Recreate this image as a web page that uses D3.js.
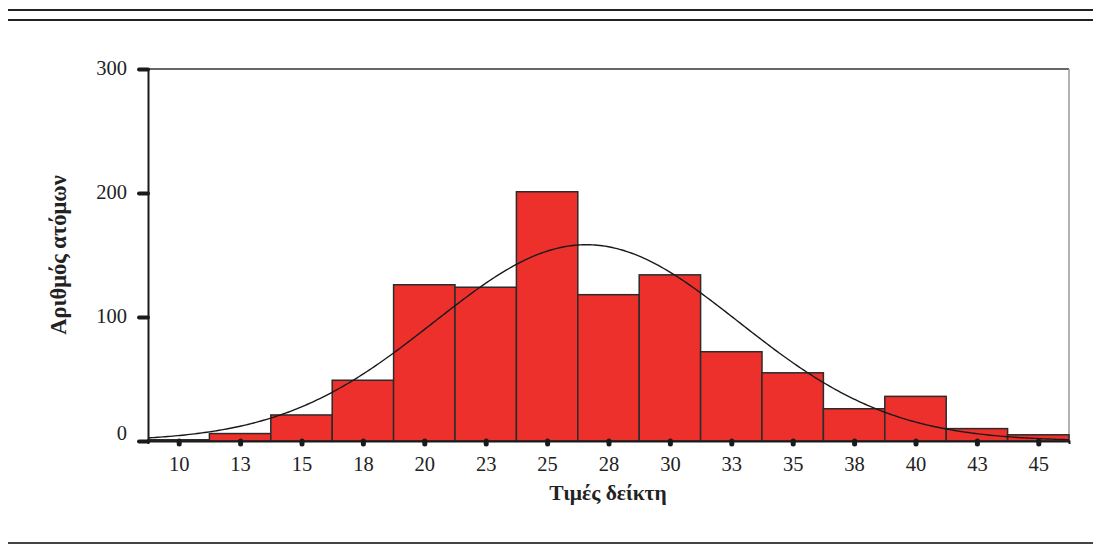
<!DOCTYPE html>
<html>
<head>
<meta charset="utf-8">
<script src="https://cdn.jsdelivr.net/npm/d3@7"></script>
<style>
  body { margin: 0; background: #fff; }
  svg { display: block; }
  text { font-family: "Liberation Serif", "DejaVu Serif", serif; fill: #222; }
</style>
</head>
<body>
<svg id="chart" width="1093" height="548"></svg>
<script>
// ---- data ----
const binCenters = [10, 12.5, 15, 17.5, 20, 22.5, 25, 27.5, 30, 32.5, 35, 37.5, 40, 42.5, 45];
const counts     = [1, 6, 21, 49, 126, 124, 201, 118, 134, 72, 55, 26, 36, 10, 5];
const binWidth = 2.5;
const xTickValues = [10, 12.5, 15, 17.5, 20, 22.5, 25, 27.5, 30, 32.5, 35, 37.5, 40, 42.5, 45];
const xTickLabels = ["10", "13", "15", "18", "20", "23", "25", "28", "30", "33", "35", "38", "40", "43", "45"];
const yTickValues = [0, 100, 200, 300];
const yTickLabels = ["0", "100", "200", "300"];
const curveMean = 26.6;
const curveSD = 6.2;
const curveN = 984;
const xTitle = "Τιμές δείκτη";
const yTitle = "Αριθμός ατόμων";

// ---- layout ----
const svg = d3.select("#chart");
const L = 148, R = 1069, T = 69, B = 441;

const x = d3.scaleLinear().domain([8.75, 46.25]).range([L, R]);
const y = d3.scaleLinear().domain([0, 300]).range([B, T]);

// page rules
[[10, "#222"], [20, "#222"], [543, "#444"]].forEach(([yy, c]) => {
  svg.append("line").attr("x1", 8).attr("x2", 1093).attr("y1", yy).attr("y2", yy)
    .attr("stroke", c).attr("stroke-width", 2);
});

// frame top & right
svg.append("line").attr("x1", L).attr("x2", R).attr("y1", T).attr("y2", T)
  .attr("stroke", "#333").attr("stroke-width", 1.5);
svg.append("line").attr("x1", R).attr("x2", R).attr("y1", T).attr("y2", B)
  .attr("stroke", "#999").attr("stroke-width", 1.5);

// bars
svg.append("g").selectAll("rect").data(binCenters).join("rect")
  .attr("x", (d) => x(d - binWidth / 2))
  .attr("width", (d) => x(d + binWidth / 2) - x(d - binWidth / 2))
  .attr("y", (d, i) => y(counts[i]))
  .attr("height", (d, i) => y(0) - y(counts[i]))
  .attr("fill", "#ee302d")
  .attr("stroke", "#2b2b2b")
  .attr("stroke-width", 1.5);

// normal curve
const pdf = (v) => Math.exp(-0.5 * Math.pow((v - curveMean) / curveSD, 2)) / (curveSD * Math.sqrt(2 * Math.PI));
const curvePts = d3.range(8.75, 46.26, 0.1).map((v) => [v, curveN * binWidth * pdf(v)]);
svg.append("path")
  .datum(curvePts)
  .attr("fill", "none")
  .attr("stroke", "#1a1a1a")
  .attr("stroke-width", 1.4)
  .attr("d", d3.line().x((d) => x(d[0])).y((d) => y(d[1])));

// y axis
const yAxis = d3.axisLeft(y).tickValues(yTickValues)
  .tickFormat((d, i) => yTickLabels[i]).tickSize(9).tickPadding(12);
const gy = svg.append("g").attr("transform", `translate(${L},0)`).call(yAxis);
gy.select(".domain").attr("stroke", "#1a1a1a").attr("stroke-width", 2);
gy.selectAll(".tick line").attr("stroke", "#1a1a1a").attr("stroke-width", 4).attr("stroke-linecap", "round");
gy.selectAll(".tick text").attr("font-size", 20.5).attr("font-family", "Liberation Serif, serif").attr("fill", "#222")
  .attr("dy", (d) => d === 0 ? "-0.05em" : "0.28em");

// x axis
const xAxis = d3.axisBottom(x).tickValues(xTickValues)
  .tickFormat((d, i) => xTickLabels[i]).tickSize(3).tickPadding(12);
const gx = svg.append("g").attr("transform", `translate(0,${B})`).call(xAxis);
gx.select(".domain").attr("stroke", "#1a1a1a").attr("stroke-width", 2);
gx.selectAll(".tick line").attr("stroke", "#1a1a1a").attr("stroke-width", 5).attr("stroke-linecap", "round");
gx.selectAll(".tick text").attr("font-size", 20.5).attr("font-family", "Liberation Serif, serif").attr("fill", "#222");

// titles
svg.append("text").attr("x", 608).attr("y", 500).attr("text-anchor", "middle")
  .attr("font-size", 21.5).attr("font-weight", "bold").text(xTitle);
svg.append("text").attr("transform", "translate(66,255) rotate(-90)").attr("text-anchor", "middle")
  .attr("font-size", 22.5).attr("font-weight", "bold").text(yTitle);
</script>
</body>
</html>
